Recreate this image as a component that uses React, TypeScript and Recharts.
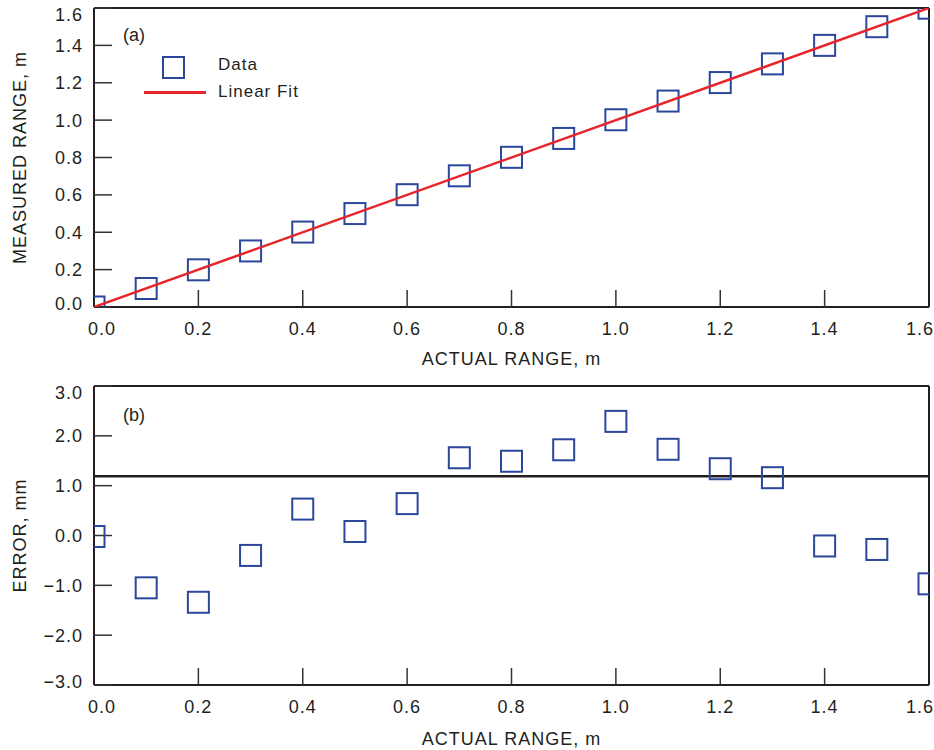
import React from 'react';
import { ScatterChart, Scatter, XAxis, YAxis, ReferenceLine, Legend } from 'recharts';

// ---------- data ----------
const actualRange = [0.0, 0.1, 0.2, 0.3, 0.4, 0.5, 0.6, 0.7, 0.8, 0.9, 1.0, 1.1, 1.2, 1.3, 1.4, 1.5, 1.6];
const measuredRange = [0.0, 0.099, 0.199, 0.3, 0.401, 0.5, 0.601, 0.702, 0.801, 0.902, 1.002, 1.102, 1.201, 1.301, 1.4, 1.5, 1.599];
const errorMm = [-0.02, -1.05, -1.34, -0.4, 0.53, 0.08, 0.64, 1.56, 1.49, 1.72, 2.29, 1.73, 1.34, 1.16, -0.21, -0.28, -0.97];
const fitX = [0.0, 1.6];
const fitY = [0.0, 1.6];
const errorLevel = 1.19;

const xTicks = [0.0, 0.2, 0.4, 0.6, 0.8, 1.0, 1.2, 1.4, 1.6];
const measuredTicks = [0.0, 0.2, 0.4, 0.6, 0.8, 1.0, 1.2, 1.4, 1.6];
const measuredRightTicks = [0.16, 0.32, 0.48, 0.64, 0.8, 0.96, 1.12, 1.28, 1.44];
const errorTicks = [-3, -2, -1, 0, 1, 2, 3];
const errorRightTicks = [-2, -1, 0, 1, 2];

const xLabel = 'ACTUAL RANGE, m';
const topYLabel = 'MEASURED RANGE, m';
const bottomYLabel = 'ERROR, mm';
const legendData = 'Data';
const legendFit = 'Linear Fit';

const measuredData = actualRange.map((x, i) => ({ x, y: measuredRange[i] }));
const fitData = fitX.map((x, i) => ({ x, y: fitY[i] }));
const errorData = actualRange.map((x, i) => ({ x, y: errorMm[i] }));

// ---------- styling ----------
const FONT = '"Liberation Sans", Arial, Helvetica, sans-serif';
const INK = '#231f20';
const BLUE = '#2b479b';
const RED = '#e8242b';
const TICK_LEN = 17;
const W = 934;
const H = 375;
const PLOT_LEFT = 94;
const PLOT_RIGHT = 929;

const textStyle: React.CSSProperties = { fontFamily: FONT, fontSize: 18, letterSpacing: 1, fill: INK };

const fmt = (v: number) => v.toFixed(1).replace('-', '\u2212');

const makeXTick = (min: number, max: number) => (props: any) => {
  const { x, y, payload } = props;
  const v = payload.value;
  let tx = x;
  let anchor: 'middle' | 'end' = 'middle';
  if (v <= min + 1e-9) tx = x + 8;
  if (v >= max - 1e-9) {
    tx = x + 5;
    anchor = 'end';
  }
  return (
    <text x={tx} y={y + 27.5} textAnchor={anchor} style={textStyle}>
      {fmt(v)}
    </text>
  );
};

const makeYTick = (min: number, max: number) => (props: any) => {
  const { x, y, payload } = props;
  const v = payload.value;
  let ty = y;
  if (v >= max - 1e-9) ty = y + 6.5;
  if (v <= min + 1e-9) ty = y - 3.3;
  return (
    <text x={x - 11} y={ty + 6.5} textAnchor="end" style={textStyle}>
      {fmt(v)}
    </text>
  );
};

const SquareShape = (props: any) => {
  const { cx, cy } = props;
  if (cx == null || cy == null) return <g />;
  const h = 10.5;
  return <rect x={cx - h} y={cy - h} width={2 * h} height={2 * h} fill="none" stroke={BLUE} strokeWidth={2} />;
};

const NoShape = () => <g />;

const XTitle = ({ text, baseline }: { text: string; baseline: number; [k: string]: any }) => (
  <text x={(PLOT_LEFT + PLOT_RIGHT) / 2} y={baseline} textAnchor="middle" style={textStyle}>
    {text}
  </text>
);

const YTitle = ({ text, cy }: { text: string; cy: number; [k: string]: any }) => (
  <text
    x={20}
    y={cy}
    transform={`rotate(-90, 20, ${cy})`}
    textAnchor="middle"
    dominantBaseline="central"
    style={textStyle}
  >
    {text}
  </text>
);

const htmlText: React.CSSProperties = {
  position: 'absolute',
  fontFamily: FONT,
  color: INK,
  lineHeight: '20px',
  whiteSpace: 'nowrap',
};

const TopLegend = () => (
  <div style={{ position: 'relative', width: W, height: H }}>
    <div style={{ ...htmlText, left: 123, top: 25, fontSize: 18 }}>(a)</div>
    <svg style={{ position: 'absolute', left: 161, top: 55 }} width={25} height={25}>
      <rect x={2} y={2} width={21} height={21} fill="none" stroke={BLUE} strokeWidth={2} />
    </svg>
    <div style={{ ...htmlText, left: 218, top: 55, fontSize: 17, letterSpacing: 1 }}>{legendData}</div>
    <div style={{ position: 'absolute', left: 144, top: 91, width: 62, height: 2.5, background: RED }} />
    <div style={{ ...htmlText, left: 218, top: 82, fontSize: 17, letterSpacing: 1 }}>{legendFit}</div>
  </div>
);

const BottomLegend = () => (
  <div style={{ position: 'relative', width: W, height: H }}>
    <div style={{ ...htmlText, left: 123, top: 30, fontSize: 18 }}>(b)</div>
  </div>
);

const axisLine = { stroke: INK, strokeWidth: 2 };
const tickLine = { stroke: '#333', strokeWidth: 1.5 };

export default function App() {
  // Panel (a) layout
  const aTop = 8;
  const aBottom = 307;
  // Panel (b) layout (local coordinates inside its own chart)
  const bTop = 11;
  const bBottom = 310;

  return (
    <div style={{ position: 'absolute', left: 0, top: 0, width: W, height: 750, background: '#fff' }}>
      <div style={{ position: 'absolute', left: 0, top: 0 }}>
        <ScatterChart width={W} height={H} margin={{ top: aTop - 1, right: 0, bottom: 0, left: 0 }}>
          <XAxis
            xAxisId="b"
            dataKey="x"
            type="number"
            orientation="bottom"
            domain={[0, 1.6]}
            ticks={xTicks}
            interval={0}
            allowDataOverflow
            height={H - aBottom}
            tickSize={-TICK_LEN}
            tickMargin={TICK_LEN}
            axisLine={axisLine}
            tickLine={tickLine}
            tick={makeXTick(0, 1.6)}
            label={<XTitle text={xLabel} baseline={aBottom + 58} />}
          />
          <XAxis
            xAxisId="t"
            type="number"
            orientation="top"
            domain={[0, 1.6]}
            ticks={xTicks}
            interval={0}
            allowDataOverflow
            height={1}
            tickSize={-TICK_LEN}
            axisLine={axisLine}
            tickLine={tickLine}
            tick={false}
          />
          <YAxis
            yAxisId="l"
            dataKey="y"
            type="number"
            domain={[0, 1.6]}
            ticks={measuredTicks}
            interval={0}
            allowDataOverflow
            width={PLOT_LEFT}
            tickSize={-18}
            tickMargin={18}
            axisLine={axisLine}
            tickLine={tickLine}
            tick={makeYTick(0, 1.6)}
            label={<YTitle text={topYLabel} cy={(aTop + aBottom) / 2} />}
          />
          <YAxis
            yAxisId="r"
            orientation="right"
            type="number"
            domain={[0, 1.6]}
            ticks={measuredRightTicks}
            interval={0}
            allowDataOverflow
            width={W - PLOT_RIGHT}
            tickSize={-TICK_LEN}
            axisLine={axisLine}
            tickLine={tickLine}
            tick={false}
          />
          <Scatter
            xAxisId="b"
            yAxisId="l"
            data={measuredData}
            shape={SquareShape}
            isAnimationActive={false}
          />
          <Scatter
            xAxisId="b"
            yAxisId="l"
            data={fitData}
            shape={NoShape}
            line={{ stroke: RED, strokeWidth: 2.5 }}
            isAnimationActive={false}
          />
          <Legend
            layout="horizontal"
            verticalAlign="middle"
            align="center"
            wrapperStyle={{ position: 'absolute', left: 0, top: 0, width: W, height: H, pointerEvents: 'none' }}
            content={() => <TopLegend />}
          />
        </ScatterChart>
      </div>
      <div style={{ position: 'absolute', left: 0, top: H }}>
        <ScatterChart width={W} height={H} margin={{ top: bTop - 1, right: 0, bottom: 0, left: 0 }}>
          <XAxis
            xAxisId="b"
            dataKey="x"
            type="number"
            orientation="bottom"
            domain={[0, 1.6]}
            ticks={xTicks}
            interval={0}
            allowDataOverflow
            height={H - bBottom}
            tickSize={-TICK_LEN}
            tickMargin={TICK_LEN}
            axisLine={axisLine}
            tickLine={tickLine}
            tick={makeXTick(0, 1.6)}
            label={<XTitle text={xLabel} baseline={bBottom + 60} />}
          />
          <XAxis
            xAxisId="t"
            type="number"
            orientation="top"
            domain={[0, 1.6]}
            ticks={xTicks}
            interval={0}
            allowDataOverflow
            height={1}
            tickSize={-TICK_LEN}
            axisLine={axisLine}
            tickLine={tickLine}
            tick={false}
          />
          <YAxis
            yAxisId="l"
            dataKey="y"
            type="number"
            domain={[-3, 3]}
            ticks={errorTicks}
            interval={0}
            allowDataOverflow
            width={PLOT_LEFT}
            tickSize={-18}
            tickMargin={18}
            axisLine={axisLine}
            tickLine={tickLine}
            tick={makeYTick(-3, 3)}
            label={<YTitle text={bottomYLabel} cy={(bTop + bBottom) / 2} />}
          />
          <YAxis
            yAxisId="r"
            orientation="right"
            type="number"
            domain={[-3, 3]}
            ticks={errorRightTicks}
            interval={0}
            allowDataOverflow
            width={W - PLOT_RIGHT}
            tickSize={-TICK_LEN}
            axisLine={axisLine}
            tickLine={tickLine}
            tick={false}
          />
          <ReferenceLine xAxisId="b" yAxisId="l" y={errorLevel} stroke={INK} strokeWidth={2.5} />
          <Scatter
            xAxisId="b"
            yAxisId="l"
            data={errorData}
            shape={SquareShape}
            isAnimationActive={false}
          />
          <Legend
            layout="horizontal"
            verticalAlign="middle"
            align="center"
            wrapperStyle={{ position: 'absolute', left: 0, top: 0, width: W, height: H, pointerEvents: 'none' }}
            content={() => <BottomLegend />}
          />
        </ScatterChart>
      </div>
    </div>
  );
}
